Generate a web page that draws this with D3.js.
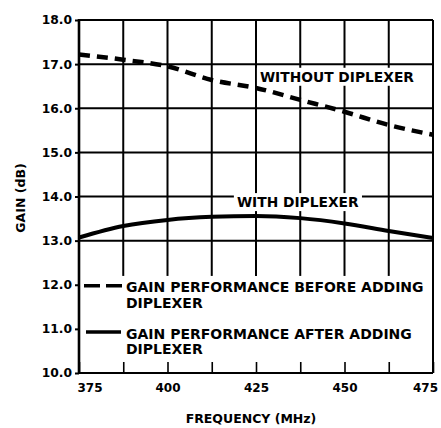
<!DOCTYPE html>
<html>
  <head>
    <meta charset="utf-8">
    <script src="https://d3js.org/d3.v7.min.js" charset="utf-8"></script>
    <style>
    body {
      margin: 0;
      background-color: #fff;
    }
    svg text {
      font-family: "DejaVu Sans", sans-serif;
      font-weight: bold;
      fill: #000;
    }
    </style>
    <title>Gain vs frequency</title>
  </head>
  <body>
    <div class="chart"></div>
    <script>

      // frequency points (MHz) read at every grid line
      var freqs = [375, 387.5, 400, 412.5, 425, 437.5, 450, 462.5, 475];
      var gainWithout = [17.22, 17.1, 16.95, 16.64, 16.46, 16.19, 15.92, 15.62, 15.40];
      var gainWith = [13.07, 13.33, 13.47, 13.54, 13.56, 13.51, 13.39, 13.22, 13.06];

      var xTicks = [375, 387.5, 400, 412.5, 425, 437.5, 450, 462.5, 475];
      var xLabels = [375, 400, 425, 450, 475];
      var yTicks = [10, 11, 12, 13, 14, 15, 16, 17, 18];
      var yGrid = [13, 14, 15, 16, 17, 18];

      var legendTexts = [
        ["GAIN PERFORMANCE BEFORE ADDING", "DIPLEXER"],
        ["GAIN PERFORMANCE AFTER ADDING", "DIPLEXER"]
      ];

      var width = 441;
      var height = 428;

      var margin = {
        top: 20,
        right: 8,
        left: 79,
        bottom: 55
      };

      var svg = d3.select('.chart').append("svg")
          .attr("width", width)
          .attr("height", height);

      var x = d3.scaleLinear()
          .domain([375, 475])
          .range([margin.left, width - margin.right]);

      var y = d3.scaleLinear()
          .domain([10, 18])
          .range([height - margin.bottom, margin.top]);

      var grid = svg.append("g")
          .attr("stroke", "#000")
          .attr("stroke-width", 2);

      // horizontal grid, 13 to 18 dB
      grid.selectAll("line.h")
          .data(yGrid)
          .enter().append("line")
          .attr("class", "h")
          .attr("x1", x(375)).attr("x2", x(475))
          .attr("y1", function(d) { return y(d); })
          .attr("y2", function(d) { return y(d); });

      // vertical grid stops a little under 13 dB
      grid.selectAll("line.v")
          .data(xTicks.slice(1, -1))
          .enter().append("line")
          .attr("class", "v")
          .attr("x1", function(d) { return x(d); })
          .attr("x2", function(d) { return x(d); })
          .attr("y1", y(18))
          .attr("y2", y(12.2));

      // right border
      grid.append("line")
          .attr("x1", x(475)).attr("x2", x(475))
          .attr("y1", y(18)).attr("y2", y(10));

      // axes
      var xAxis = d3.axisBottom(x)
          .tickValues(xTicks)
          .tickSizeInner(-11)
          .tickSizeOuter(0)
          .tickPadding(10)
          .tickFormat(function(d) { return xLabels.indexOf(d) >= 0 ? d : ""; });

      var gx = svg.append("g")
          .attr("transform", "translate(0," + y(10) + ")")
          .call(xAxis);
      gx.select(".domain").remove();
      gx.selectAll("line").attr("stroke", "#000").attr("stroke-width", 1.6);
      gx.selectAll("text")
          .attr("font-size", 12)
          .attr("text-anchor", function(d) { return d === 375 ? "start" : "middle"; })
          .attr("dx", function(d) { return d === 375 ? -2 : (d === 475 ? -8 : 0); });

      var yAxis = d3.axisLeft(y)
          .tickValues(yTicks)
          .tickSize(4)
          .tickPadding(3)
          .tickFormat(d3.format(".1f"));

      var gy = svg.append("g")
          .attr("transform", "translate(" + x(375) + ",0)")
          .call(yAxis);
      gy.select(".domain").remove();
      gy.selectAll("line").attr("stroke", "#000").attr("stroke-width", 2);
      gy.selectAll("text").attr("font-size", 12.3);

      svg.append("line")
          .attr("x1", x(375)).attr("x2", x(375))
          .attr("y1", y(18) - 1).attr("y2", y(10) + 1)
          .attr("stroke", "#000").attr("stroke-width", 2.6);

      svg.append("line")
          .attr("x1", x(375)).attr("x2", x(475))
          .attr("y1", y(10)).attr("y2", y(10))
          .attr("stroke", "#000").attr("stroke-width", 2);

      // curves
      var line = d3.line()
          .x(function(d, i) { return x(freqs[i]); })
          .y(function(d) { return y(d); })
          .curve(d3.curveMonotoneX);

      svg.append("path")
          .datum(gainWithout)
          .attr("d", line)
          .attr("fill", "none")
          .attr("stroke", "#000")
          .attr("stroke-width", 4.5)
          .attr("stroke-dasharray", "11,7");

      svg.append("path")
          .datum(gainWith)
          .attr("d", line)
          .attr("fill", "none")
          .attr("stroke", "#000")
          .attr("stroke-width", 4);

      // curve labels on white boxes
      function boxedLabel(txt, fx, gy) {
        var g = svg.append("g");
        var t = g.append("text")
            .attr("x", x(fx))
            .attr("y", y(gy))
            .attr("font-size", 13.8)
            .text(txt);
        var b = t.node().getBBox();
        g.insert("rect", "text")
            .attr("x", b.x - 3)
            .attr("y", b.y - 1)
            .attr("width", b.width + 6)
            .attr("height", b.height + 2)
            .attr("fill", "#fff");
      }

      boxedLabel("WITHOUT DIPLEXER", 426.1, 16.6);
      boxedLabel("WITH DIPLEXER", 419.6, 13.76);

      // legend
      var legend = svg.append("g");

      legend.append("line")
          .attr("x1", 84).attr("x2", 122)
          .attr("y1", y(12) + 1).attr("y2", y(12) + 1)
          .attr("stroke", "#000")
          .attr("stroke-width", 3.5)
          .attr("stroke-dasharray", "16,6");

      legend.append("line")
          .attr("x1", 86).attr("x2", 121)
          .attr("y1", y(11) + 3).attr("y2", y(11) + 3)
          .attr("stroke", "#000")
          .attr("stroke-width", 3.5);

      var legendY = [y(12) + 7.5, y(11) + 10];
      legendTexts.forEach(function(lines, i) {
        legend.append("text")
            .attr("x", 126)
            .attr("y", legendY[i])
            .attr("font-size", 14)
          .selectAll("tspan")
          .data(lines)
          .enter().append("tspan")
            .attr("x", 126)
            .attr("dy", function(d, j) { return j ? 15.5 : 0; })
            .text(function(d) { return d; });
      });

      // axis titles
      svg.append("text")
          .attr("x", 251)
          .attr("y", 423)
          .attr("text-anchor", "middle")
          .attr("font-size", 12.5)
          .text("FREQUENCY (MHz)");

      svg.append("text")
          .attr("transform", "translate(25,198) rotate(-90)")
          .attr("text-anchor", "middle")
          .attr("font-size", 12.5)
          .text("GAIN (dB)");

    </script>
  </body>
</html>
